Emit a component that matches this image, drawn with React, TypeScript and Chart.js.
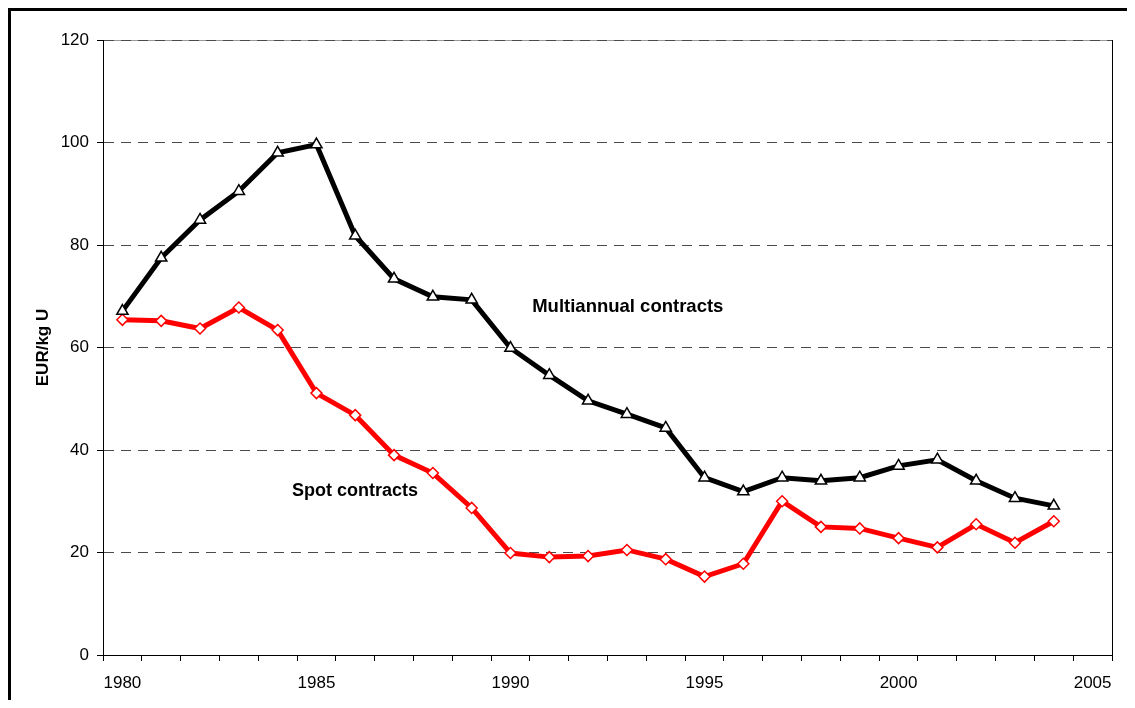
import React, { useEffect, useRef } from "react";
import { Chart, registerables } from "chart.js";

Chart.register(...registerables);

const years = [
  "1980","1981","1982","1983","1984","1985","1986","1987","1988","1989",
  "1990","1991","1992","1993","1994","1995","1996","1997","1998","1999",
  "2000","2001","2002","2003","2004","2005",
];

const multiannual = [
  67.1, 77.5, 84.9, 90.5, 98.0, 99.6, 81.8, 73.4, 69.9, 69.3,
  59.9, 54.6, 49.6, 47.0, 44.3, 34.6, 31.9, 34.6, 34.0, 34.6,
  36.9, 38.1, 34.0, 30.6, 29.1,
];

const spot = [
  65.4, 65.2, 63.7, 67.8, 63.4, 51.1, 46.8, 39.0, 35.5, 28.7,
  19.9, 19.1, 19.3, 20.5, 18.7, 15.3, 17.8, 30.0, 25.0, 24.7,
  22.8, 21.0, 25.5, 21.9, 26.1,
];

const yTicks = [0, 20, 40, 60, 80, 100, 120];

const labelTexts = ["Multiannual contracts", "Spot contracts"];
const labelX = [10.56, 4.37]; // category index positions
const labelY = [68, 32]; // value positions

const FONT = "'Liberation Sans', Arial, sans-serif";

export default function App() {
  const ref = useRef<HTMLCanvasElement | null>(null);

  useEffect(() => {
    if (!ref.current) return;
    const framePlugin = {
      id: "frame",
      beforeDraw(chart: any) {
        const { ctx, chartArea } = chart;
        ctx.save();
        ctx.strokeStyle = "#9a9a9a";
        ctx.lineWidth = 1;
        ctx.beginPath();
        ctx.moveTo(chartArea.left, Math.round(chartArea.top) + 0.5);
        ctx.lineTo(chartArea.right, Math.round(chartArea.top) + 0.5);
        ctx.stroke();
        ctx.restore();
      },
      beforeDatasetsDraw(chart: any) {
        const { ctx, chartArea } = chart;
        ctx.save();
        ctx.strokeStyle = "#000";
        ctx.lineWidth = 1;
        ctx.beginPath();
        const x = Math.round(chartArea.right) + 0.5;
        ctx.moveTo(x, chartArea.top);
        ctx.lineTo(x, chartArea.bottom);
        ctx.stroke();
        ctx.restore();
      },
      afterDatasetsDraw(chart: any) {
        const { ctx, scales } = chart;
        ctx.save();
        ctx.fillStyle = "#000";
        ctx.textAlign = "left";
        ctx.textBaseline = "middle";
        labelTexts.forEach((t, i) => {
          ctx.font = `bold ${i === 0 ? 18.5 : 18}px ${FONT}`;
          const x = scales.x.getPixelForValue(labelX[i]);
          const y = scales.y.getPixelForValue(labelY[i]);
          ctx.fillText(t, x, y);
        });
        ctx.restore();
      },
    };

    const chart = new Chart(ref.current, {
      type: "line",
      data: {
        labels: years,
        datasets: [
          {
            label: "Multiannual contracts",
            data: multiannual,
            borderColor: "#000",
            borderWidth: 5,
            pointStyle: "triangle",
            pointRadius: 6.5,
            pointBorderWidth: 1.5,
            pointBackgroundColor: "#fff",
            pointBorderColor: "#000",
            tension: 0,
          },
          {
            label: "Spot contracts",
            data: spot,
            borderColor: "#ff0000",
            borderWidth: 5,
            pointStyle: "rectRot",
            pointRadius: 5.5,
            pointBorderWidth: 1.5,
            pointBackgroundColor: "#fff",
            pointBorderColor: "#ff0000",
            tension: 0,
          },
        ],
      },
      options: {
        animation: false,
        responsive: false,
        devicePixelRatio: 1,
        layout: { padding: { left: 0, top: 29, right: 15, bottom: 0 } },
        plugins: {
          legend: { display: false },
          tooltip: { enabled: false },
        },
        scales: {
          x: {
            type: "category",
            offset: true,
            afterFit: (s: any) => {
              s.height = 45;
            },
            grid: {
              offset: true,
              drawOnChartArea: false,
              drawTicks: true,
              tickLength: 6,
              tickColor: "#000",
              color: "#000",
            },
            border: { display: true, color: "#000", width: 1 },
            ticks: {
              autoSkip: false,
              maxRotation: 0,
              minRotation: 0,
              padding: 12,
              color: "#000",
              font: { family: FONT, size: 17 },
              callback: function (this: any, _v: any, idx: number) {
                const l = years[idx];
                return Number(l) % 5 === 0 ? l : "";
              },
            },
          },
          y: {
            min: 0,
            max: 120,
            afterFit: (s: any) => {
              s.width = 92;
            },
            afterBuildTicks: (s: any) => {
              s.ticks = yTicks.map((v) => ({ value: v }));
            },
            grid: {
              color: (c: any) =>
                c.tick && c.tick.value === 0 ? "rgba(0,0,0,0)" : "#4a4a4a",
              lineWidth: 1,
              drawTicks: true,
              tickLength: 6,
              tickColor: "#000",
              tickBorderDash: [],
            },
            border: { display: true, color: "#000", width: 1, dash: [10, 7] },
            ticks: {
              padding: 8,
              color: "#000",
              font: { family: FONT, size: 17 },
            },
            title: {
              display: true,
              text: "EUR/kg U",
              color: "#000",
              font: { family: FONT, size: 17, weight: "bold" },
              padding: { top: 22, bottom: 0 },
            },
          },
        },
      },
      plugins: [framePlugin],
    } as any);

    return () => chart.destroy();
  }, []);

  return (
    <div
      style={{
        position: "relative",
        width: 1119,
        height: 692,
        borderTop: "3px solid #000",
        borderLeft: "3px solid #000",
        boxSizing: "border-box",
        overflow: "hidden",
        background: "#fff",
      }}
    >
      <canvas
        ref={ref}
        width={1116}
        height={689}
        style={{ display: "block", width: 1116, height: 689 }}
      />
    </div>
  );
}
